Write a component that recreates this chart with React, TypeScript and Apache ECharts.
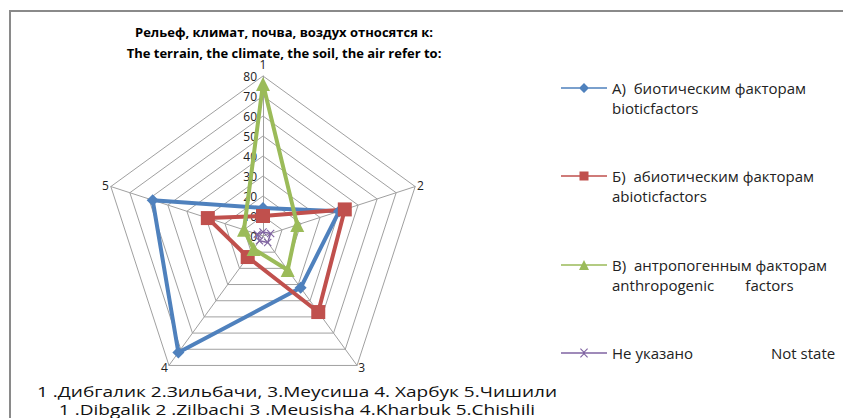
import React, { useEffect, useRef } from "react";
import * as echarts from "echarts";

const axisNames = ["1", "2", "3", "4", "5"];
const axisMax = 80;
const axisInterval = 10;

const seriesNames = [
  "А)  биотическим факторам\nbioticfactors",
  "Б)  абиотическим факторам\nabioticfactors",
  "В)  антропогенным факторам\nanthropogenic        factors",
  "Не указано                    Not state",
];
const biotic = [14, 40, 32, 72, 58];
const abiotic = [10, 43, 47, 13, 29];
const anthropogenic = [76, 18, 21, 8, 10];
const notStated = [2, 4, 4, 3, 3];

const titleLines = [
  "Рельеф, климат, почва, воздух относятся к:",
  "The terrain, the climate, the soil, the air refer to:",
];
const footLines = [
  "1 .Дибгалик 2.Зильбачи, 3.Меусиша 4. Харбук 5.Чишили",
  "1 .Dibgalik 2 .Zilbachi 3 .Meusisha 4.Kharbuk 5.Chishili",
];

const colors = ["#4F81BD", "#C0504D", "#9BBB59", "#8064A2"];
const values = [biotic, abiotic, anthropogenic, notStated];
const xPath = "path://M0,1 L1,0 L5,4 L9,0 L10,1 L6,5 L10,9 L9,10 L5,6 L1,10 L0,9 L4,5 Z";
const symbols = ["diamond", "rect", "triangle", xPath];
const symbolSizes = [12, 14, 14, 8];
const widths = [4, 4, 4, 1.5];
const legendTops = [53, 141, 230, 338];

// legend icons: a short line with the series marker in its middle (box 46 x 12)
const LINE = "M0,5.2 L46,5.2 L46,6.8 L0,6.8 Z";
const legendIcons = [
  "path://" + LINE + " M23,1 L28,6 L23,11 L18,6 Z",
  "path://" + LINE + " M18.5,1.5 L27.5,1.5 L27.5,10.5 L18.5,10.5 Z",
  "path://" + LINE + " M23,1 L28,11 L18,11 Z",
  "path://" + LINE + " M19,2 L19.8,1.2 L23,4.4 L26.2,1.2 L27,2 L23.8,5.2 L23.8,6.8 L27,10 L26.2,10.8 L23,7.6 L19.8,10.8 L19,10 L22.2,6.8 L22.2,5.2 Z M0,0 L0.01,0 L0.01,12 L0,12 Z",
];

// clockwise order of the axes (ECharts lays indicators out counter-clockwise)
const order = [0, 4, 3, 2, 1];

const FONT = "'Open Sans', Lato, sans-serif";

export default function App() {
  const ref = useRef<HTMLDivElement>(null);
  useEffect(() => {
    if (!ref.current) return;
    const chart = echarts.init(ref.current, null, { renderer: "svg" });
    chart.setOption({
      animation: false,
      backgroundColor: "#ffffff",
      textStyle: { fontFamily: FONT },
      title: {
        text: titleLines.join("\n"),
        left: 279,
        top: 16,
        textAlign: "center",
        textStyle: { fontSize: 13, fontWeight: "bold", color: "#000", lineHeight: 21, fontFamily: FONT },
      },
      legend: seriesNames.map((n, i) => ({
        data: [{ name: n, icon: legendIcons[i] }],
        left: 556,
        top: legendTops[i],
        orient: "vertical",
        itemWidth: 46,
        itemHeight: 12,
        selectedMode: false,
        formatter: (name: string) => (name.indexOf("\n") >= 0 ? " \n" + name : name),
        textStyle: { fontSize: 15, color: "#222", lineHeight: 20, fontFamily: FONT },
      })),
      graphic: [
        {
          type: "rect",
          shape: { x: 10, y: 11, width: 900, height: 500 },
          style: { fill: "none", stroke: "#8a8a8a", lineWidth: 2 },
          silent: true,
        },
        {
          type: "text",
          x: 297,
          y: 400,
          scaleX: 1.27,
          silent: true,
          style: {
            text: footLines.join("\n"),
            fontSize: 15,
            lineHeight: 18,
            fontFamily: FONT,
            fill: "#111",
            align: "center",
            verticalAlign: "middle",
          },
        },
      ],
      radar: {
        center: [263, 236],
        radius: 160,
        shape: "polygon",
        startAngle: 90,
        splitNumber: axisMax / axisInterval,
        indicator: order.map((k) => ({
          name: axisNames[k],
          min: 0,
          max: axisMax,
          axisLabel: k === 0 ? { show: true } : { show: false },
        })),
        axisName: { color: "#222", fontSize: 12, fontFamily: FONT },
        nameGap: 2,
        axisLine: { lineStyle: { color: "#a0a0a0", width: 1 } },
        splitLine: { lineStyle: { color: "#a0a0a0", width: 1 } },
        splitArea: { show: false },
        axisTick: { show: false },
        axisLabel: { show: false, color: "#222", fontSize: 12, margin: 6, fontFamily: FONT },
      },
      series: seriesNames.map((n, i) => ({
        type: "radar",
        name: n,
        symbol: symbols[i],
        symbolSize: symbolSizes[i],
        lineStyle: { color: colors[i], width: widths[i] },
        itemStyle: { color: colors[i] },
        data: [{ value: order.map((k) => values[i][k]), name: n }],
      })),
    });
    return () => chart.dispose();
  }, []);
  return <div ref={ref} style={{ position: "absolute", left: 0, top: 0, width: 843, height: 418 }} />;
}
